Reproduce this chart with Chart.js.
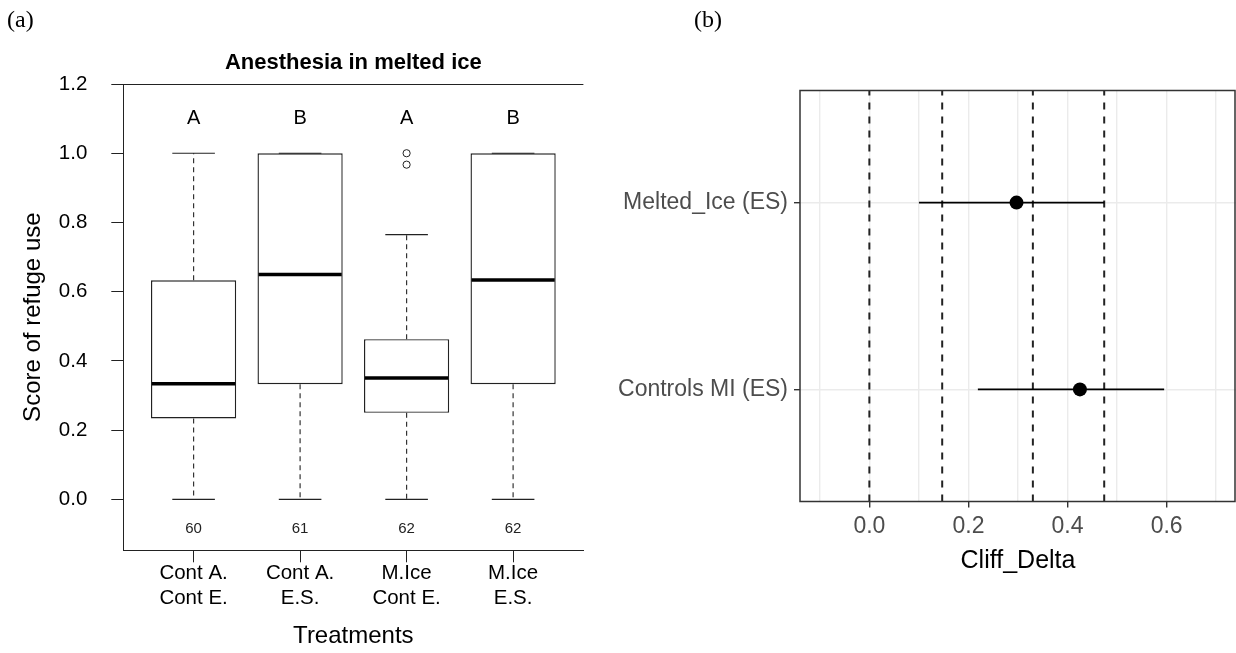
<!DOCTYPE html>
<html>
<head>
<meta charset="utf-8">
<script src="https://cdn.jsdelivr.net/npm/chart.js@4.4.0/dist/chart.umd.min.js"></script>
<style>
  body { margin: 0; background: #fff; }
  #wrap { position: relative; width: 1236px; height: 653px; overflow: hidden; background: #fff; }
  canvas { position: absolute; top: 0; }
  #chartA { left: 0; }
  #chartB { left: 600px; }
  .tag { position: absolute; top: 4px; font-family: 'Liberation Serif', 'Times New Roman', serif; font-size: 24px; color: #000; line-height: 30px; }
</style>
</head>
<body>
<div id="wrap">
  <canvas id="chartA" width="620" height="653"></canvas>
  <canvas id="chartB" width="636" height="653"></canvas>
  <div class="tag" style="left:7px">(a)</div>
  <div class="tag" style="left:694px">(b)</div>
</div>
<script>
// ===================================
// Panel (a) - boxplot data
// ===================================
const treatments = [['Cont A.', 'Cont E.'], ['Cont A.', 'E.S.'], ['M.Ice', 'Cont E.'], ['M.Ice', 'E.S.']];
const boxPos = [1, 2, 3, 4];
const whiskerLow = [0, 0, 0, 0];
const q1 = [0.234, 0.333, 0.250, 0.333];
const medians = [0.334, 0.650, 0.351, 0.634];
const q3 = [0.633, 1.0, 0.463, 1.0];
const whiskerHigh = [1.0, 1.0, 0.765, 1.0];
const outlierPos = [3, 3];
const outlierValues = [1.0, 0.967];
const groupLetters = ['A', 'B', 'A', 'B'];
const sampleSizes = ['60', '61', '62', '62'];
const scoreTicks = [0, 0.2, 0.4, 0.6, 0.8, 1.0, 1.2];
const letterLevel = 1.1;
const countLevel = -0.085;
const boxWidth = 0.8;

// ===================================
// Panel (b) - Cliff's delta data
// ===================================
const effectLabels = ['Controls MI (ES)', 'Melted_Ice (ES)'];
const cliffDelta = [0.425, 0.297];
const ciLower = [0.219, 0.100];
const ciUpper = [0.595, 0.474];
const thresholds = [0, 0.147, 0.33, 0.474];
const deltaTicks = [-0.1, 0, 0.1, 0.2, 0.3, 0.4, 0.5, 0.6, 0.7];

const SANS = '"Liberation Sans", Arial, sans-serif';
Chart.defaults.font.family = SANS;
Chart.defaults.color = '#000';

// ===================================
// Panel (a)
// ===================================
const whiskerSegments = [];
boxPos.forEach((p, i) => {
    whiskerSegments.push({x: p, y: q3[i]}, {x: p, y: whiskerHigh[i]}, {x: p, y: null});
    whiskerSegments.push({x: p, y: q1[i]}, {x: p, y: whiskerLow[i]}, {x: p, y: null});
});
const capPoints = boxPos.map((p, i) => ({x: p, y: whiskerHigh[i]}))
    .concat(boxPos.map((p, i) => ({x: p, y: whiskerLow[i]})));

// half of a width given in x units, in pixels
function halfWidthPx(chart, w) {
    const s = chart.scales.x;
    return Math.abs(s.getPixelForValue(1 + w / 2) - s.getPixelForValue(1));
}

const annotateA = {
    id: 'annotateA',
    afterDraw(chart) {
        const {ctx, chartArea, scales: {x, y}} = chart;
        ctx.save();
        // top frame line
        ctx.strokeStyle = '#222';
        ctx.lineWidth = 1;
        ctx.beginPath();
        ctx.moveTo(chartArea.left, chartArea.top + 0.5);
        ctx.lineTo(chartArea.right, chartArea.top + 0.5);
        ctx.stroke();

        ctx.fillStyle = '#000';
        ctx.textAlign = 'center';
        ctx.textBaseline = 'middle';
        ctx.font = 'bold 22px ' + SANS;
        ctx.fillText('Anesthesia in melted ice', (chartArea.left + chartArea.right) / 2, 63);

        ctx.font = '20px ' + SANS;
        groupLetters.forEach((l, i) => {
            ctx.fillText(l, x.getPixelForValue(boxPos[i]), y.getPixelForValue(letterLevel));
        });
        ctx.font = '15px ' + SANS;
        ctx.fillStyle = '#222';
        sampleSizes.forEach((n, i) => {
            ctx.fillText(n, x.getPixelForValue(boxPos[i]), y.getPixelForValue(countLevel));
        });
        ctx.restore();
    }
};

new Chart(document.getElementById('chartA'), {
    type: 'bar',
    data: {
        datasets: [
            {
                type: 'scatter',
                data: boxPos.map((p, i) => ({x: p, y: medians[i]})),
                pointStyle: 'line',
                radius: ctx => halfWidthPx(ctx.chart, boxWidth) - 1,
                borderColor: '#000',
                borderWidth: 3.5
            },
            {
                type: 'scatter',
                data: capPoints,
                pointStyle: 'line',
                radius: ctx => halfWidthPx(ctx.chart, boxWidth / 2),
                borderColor: '#222',
                borderWidth: 1.2
            },
            {
                type: 'scatter',
                data: outlierPos.map((p, i) => ({x: p, y: outlierValues[i]})),
                pointStyle: 'circle',
                radius: 3.6,
                backgroundColor: '#fff',
                borderColor: '#222',
                borderWidth: 1
            },
            {
                type: 'line',
                data: whiskerSegments,
                borderColor: '#333',
                borderWidth: 1.2,
                borderDash: [5, 4],
                pointRadius: 0,
                spanGaps: false,
                fill: false
            },
            {
                type: 'bar',
                data: boxPos.map((p, i) => ({x: p, y: [q1[i], q3[i]]})),
                backgroundColor: '#fff',
                borderColor: '#222',
                borderWidth: 1.4,
                borderSkipped: false,
                categoryPercentage: 1,
                barPercentage: boxWidth
            }
        ]
    },
    options: {
        responsive: false,
        animation: false,
        events: [],
        layout: {autoPadding: false, padding: {left: 0, top: 84, right: 36.6, bottom: 0}},
        plugins: {legend: {display: false}, tooltip: {enabled: false}},
        scales: {
            x: {
                type: 'linear',
                min: 0.34,
                max: 4.66,
                offset: false,
                afterBuildTicks: s => { s.ticks = boxPos.map(v => ({value: v})); },
                afterFit: s => { s.height = 653 - 550.3; },
                ticks: {
                    autoSkip: false,
                    maxRotation: 0,
                    padding: -1,
                    color: '#000',
                    font: {size: 20.5, lineHeight: '25px'},
                    callback: v => treatments[boxPos.indexOf(v)]
                },
                grid: {offset: false, drawOnChartArea: false, drawTicks: true, tickLength: 12, color: '#222', lineWidth: 1},
                border: {display: true, color: '#222', width: 1},
                title: {display: true, text: 'Treatments', color: '#000', font: {size: 24}, padding: {top: 0, bottom: 2.6}}
            },
            y: {
                type: 'linear',
                min: -0.147,
                max: 1.2,
                afterBuildTicks: s => { s.ticks = scoreTicks.map(v => ({value: v})); },
                afterFit: s => { s.width = 123.3; },
                ticks: {
                    padding: 24,
                    color: '#000',
                    font: {size: 20.5},
                    callback: v => v.toFixed(1)
                },
                grid: {drawOnChartArea: false, drawTicks: true, tickLength: 12, color: '#222', lineWidth: 1},
                border: {display: true, color: '#222', width: 1},
                title: {display: true, text: 'Score of refuge use', color: '#000', font: {size: 24}, padding: {top: 19.2, bottom: 0}}
            }
        }
    },
    plugins: [annotateA]
});

// ===================================
// Panel (b)
// ===================================
const thresholdSegments = [];
thresholds.forEach(t => {
    thresholdSegments.push({x: t, y: 0.4}, {x: t, y: 2.6}, {x: t, y: null});
});
const ciSegments = [];
effectLabels.forEach((l, i) => {
    ciSegments.push({x: ciLower[i], y: i + 1}, {x: ciUpper[i], y: i + 1}, {x: ciUpper[i], y: null});
});
const isMajor = v => Math.round(v * 10) % 2 === 0;

const frameB = {
    id: 'frameB',
    afterDraw(chart) {
        const {ctx, chartArea} = chart;
        ctx.save();
        ctx.strokeStyle = '#333';
        ctx.lineWidth = 1.5;
        ctx.strokeRect(chartArea.left, chartArea.top, chartArea.right - chartArea.left - 1, chartArea.bottom - chartArea.top);
        ctx.restore();
    }
};

new Chart(document.getElementById('chartB'), {
    type: 'scatter',
    data: {
        datasets: [
            {
                data: effectLabels.map((l, i) => ({x: cliffDelta[i], y: i + 1})),
                pointStyle: 'circle',
                radius: 7,
                backgroundColor: '#000',
                borderColor: '#000',
                borderWidth: 0
            },
            {
                type: 'line',
                data: ciSegments,
                borderColor: '#000',
                borderWidth: 1.6,
                pointRadius: 0,
                spanGaps: false,
                fill: false
            },
            {
                type: 'line',
                data: thresholdSegments,
                borderColor: '#222',
                borderWidth: 2,
                borderDash: [7, 7],
                pointRadius: 0,
                spanGaps: false,
                fill: false
            }
        ]
    },
    options: {
        responsive: false,
        animation: false,
        events: [],
        layout: {autoPadding: false, padding: {left: 0, top: 90.5, right: 0, bottom: 0}},
        plugins: {legend: {display: false}, tooltip: {enabled: false}},
        scales: {
            x: {
                type: 'linear',
                min: -0.14,
                max: 0.74,
                afterBuildTicks: s => { s.ticks = deltaTicks.map(v => ({value: v})); },
                afterFit: s => { s.height = 653 - 501.5; },
                ticks: {
                    autoSkip: false,
                    maxRotation: 0,
                    padding: 0,
                    color: '#4D4D4D',
                    font: {size: 23, lineHeight: '39px'},
                    callback: v => isMajor(v) ? v.toFixed(1) : ''
                },
                grid: {
                    drawTicks: true,
                    tickLength: 6,
                    color: '#EBEBEB',
                    lineWidth: 1.4,
                    tickColor: ctx => isMajor(ctx.tick.value) ? '#333' : 'rgba(0,0,0,0)',
                    tickWidth: 1.4
                },
                border: {display: false},
                title: {display: true, text: 'Cliff_Delta', color: '#000', font: {size: 25}, padding: {top: 0, bottom: 77}}
            },
            y: {
                type: 'linear',
                min: 0.4,
                max: 2.6,
                afterBuildTicks: s => { s.ticks = effectLabels.map((l, i) => ({value: i + 1})); },
                afterFit: s => { s.width = 200; },
                ticks: {
                    padding: 6,
                    color: '#4D4D4D',
                    font: {size: 23},
                    callback: v => effectLabels[v - 1]
                },
                grid: {
                    drawTicks: true,
                    tickLength: 6,
                    color: '#EBEBEB',
                    lineWidth: 1.4,
                    tickColor: '#333',
                    tickWidth: 1.4
                },
                border: {display: false}
            }
        }
    },
    plugins: [frameB]
});
</script>
</body>
</html>
